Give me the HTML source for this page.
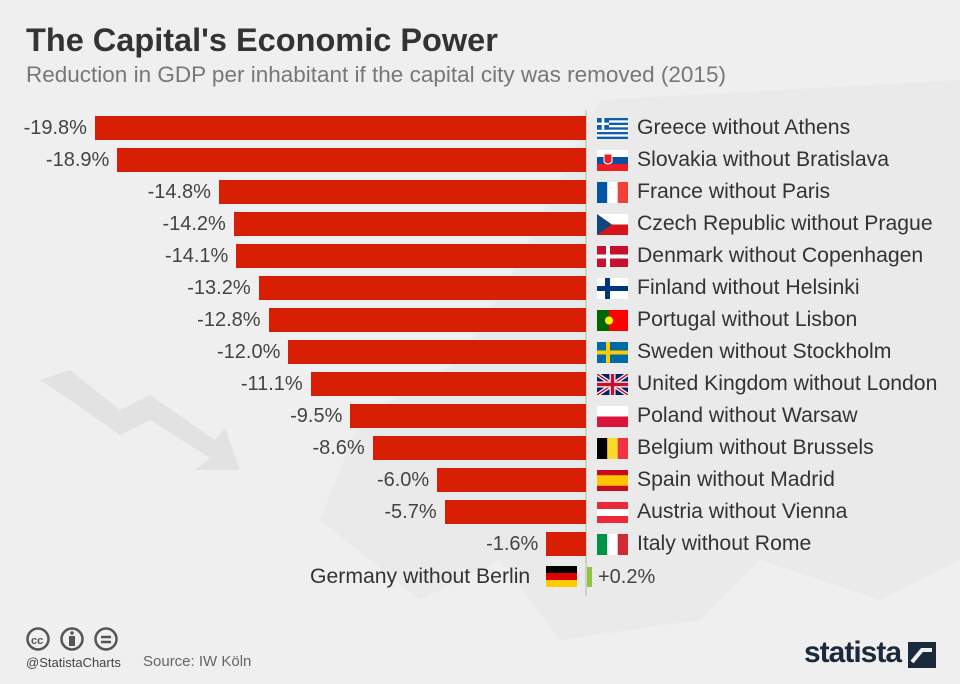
<!DOCTYPE html>
<html><head><meta charset="utf-8"><style>
body{margin:0;width:960px;height:684px;background:#efefef;font-family:"Liberation Sans",sans-serif;position:relative;overflow:hidden}
.a{position:absolute;white-space:nowrap}
.bar{position:absolute;height:24px;background:#d81e05}
.val{position:absolute;font-size:20px;color:#444;text-align:right;width:120px}
.lab{position:absolute;left:637px;font-size:21.2px;color:#333}
.flag{position:absolute;left:597px;width:31px;height:21px}
</style></head><body>
<svg class="a" style="left:0;top:0" width="960" height="684">
<path d="M600 100 L960 80 L960 560 L880 600 L760 560 L700 620 L560 640 L500 560 L420 600 L320 520 L360 420 L460 360 L520 260 Z" fill="#eaeaea"/>
<path d="M40 380 L70 370 L120 410 L150 395 L215 440 L225 428 L240 470 L195 470 L210 458 L150 420 L120 435 L70 400 Z" fill="#e2e2e2"/>
<line x1="586" y1="110" x2="586" y2="596" stroke="#c8c8c8" stroke-width="1.5"/>
</svg>
<div class="a" style="left:26px;top:22px;font-size:32.5px;font-weight:bold;color:#333">The Capital's Economic Power</div>
<div class="a" style="left:26px;top:62px;font-size:22.5px;color:#777">Reduction in GDP per inhabitant if the capital city was removed (2015)</div>
<div id="rows"></div>
<div class="a" style="left:310px;top:565px;font-size:21.2px;color:#333">Germany without Berlin</div>
<svg class="a" style="left:546px;top:566px" width="31" height="21"><rect width="31" height="7" fill="#000"/><rect y="7" width="31" height="7" fill="#d00"/><rect y="14" width="31" height="7" fill="#fc0"/></svg>
<div class="a" style="left:587px;top:567px;width:5px;height:20px;background:#8dc63f"></div>
<div class="a" style="left:598px;top:566px;font-size:20px;color:#444">+0.2%</div>
<svg class="a" style="left:26px;top:626px" width="95" height="26" fill="none" stroke="#555" stroke-width="2.5"><circle cx="12" cy="13" r="10.5"/><circle cx="46" cy="13" r="10.5"/><circle cx="80" cy="13" r="10.5"/><text x="5" y="18" font-size="11" font-weight="bold" fill="#555" stroke="none" font-family="Liberation Sans">cc</text><circle cx="46" cy="7" r="1.8" fill="#555" stroke="none"/><rect x="43" y="10" width="6" height="10" fill="#555" stroke="none"/><line x1="75" y1="11" x2="85" y2="11"/><line x1="75" y1="16" x2="85" y2="16"/></svg>
<div class="a" style="left:26px;top:655px;font-size:13px;color:#444">@StatistaCharts</div>
<div class="a" style="left:143px;top:653px;font-size:15px;color:#666">Source: IW Köln</div>
<div class="a" style="left:804px;top:636px;font-size:30px;font-weight:bold;color:#1a2a3a;letter-spacing:-1px">statista</div>
<svg class="a" style="left:908px;top:642px" width="28" height="26"><rect width="28" height="26" fill="#1a2a3a"/><path d="M4 20 L14 8 L24 8" stroke="#efefef" stroke-width="4" fill="none"/></svg>
<script>
const d=[[19.8,"Greece without Athens","gr"],[18.9,"Slovakia without Bratislava","sk"],[14.8,"France without Paris","fr"],[14.2,"Czech Republic without Prague","cz"],[14.1,"Denmark without Copenhagen","dk"],[13.2,"Finland without Helsinki","fi"],[12.8,"Portugal without Lisbon","pt"],[12.0,"Sweden without Stockholm","se"],[11.1,"United Kingdom without London","uk"],[9.5,"Poland without Warsaw","pl"],[8.6,"Belgium without Brussels","be"],[6.0,"Spain without Madrid","es"],[5.7,"Austria without Vienna","at"],[1.6,"Italy without Rome","it"]];
const F={
gr:'<rect width="31" height="21" fill="#0d5eaf"/>'+[1,3,5,7].map(i=>`<rect y="${i*21/9}" width="31" height="${21/9}" fill="#fff"/>`).join('')+'<rect width="12" height="11.7" fill="#0d5eaf"/><rect x="4.7" width="2.6" height="11.7" fill="#fff"/><rect y="4.6" width="12" height="2.4" fill="#fff"/>',
sk:'<rect width="31" height="7" fill="#fff"/><rect y="7" width="31" height="7" fill="#0b4ea2"/><rect y="14" width="31" height="7" fill="#ee1c25"/><path d="M7 4 h8 v8 q-4 4 -8 0z" fill="#ee1c25" stroke="#fff"/>',
fr:'<rect width="10.3" height="21" fill="#0055a4"/><rect x="10.3" width="10.4" height="21" fill="#fff"/><rect x="20.7" width="10.3" height="21" fill="#ef4135"/>',
cz:'<rect width="31" height="10.5" fill="#fff"/><rect y="10.5" width="31" height="10.5" fill="#d7141a"/><path d="M0 0 L15 10.5 L0 21z" fill="#11457e"/>',
dk:'<rect width="31" height="21" fill="#c8102e"/><rect x="9" width="4" height="21" fill="#fff"/><rect y="8.5" width="31" height="4" fill="#fff"/>',
fi:'<rect width="31" height="21" fill="#fff"/><rect x="8" width="5" height="21" fill="#003580"/><rect y="8" width="31" height="5" fill="#003580"/>',
pt:'<rect width="31" height="21" fill="#f00"/><rect width="12" height="21" fill="#060"/><circle cx="12" cy="10.5" r="4" fill="#ff0"/>',
se:'<rect width="31" height="21" fill="#006aa7"/><rect x="9" width="4" height="21" fill="#fecc00"/><rect y="8.5" width="31" height="4" fill="#fecc00"/>',
uk:'<rect width="31" height="21" fill="#012169"/><path d="M0 0L31 21M31 0L0 21" stroke="#fff" stroke-width="4"/><path d="M0 0L31 21M31 0L0 21" stroke="#c8102e" stroke-width="1.5"/><path d="M15.5 0V21M0 10.5H31" stroke="#fff" stroke-width="6"/><path d="M15.5 0V21M0 10.5H31" stroke="#c8102e" stroke-width="3.5"/>',
pl:'<rect width="31" height="10.5" fill="#fff"/><rect y="10.5" width="31" height="10.5" fill="#dc143c"/>',
be:'<rect width="10.3" height="21" fill="#000"/><rect x="10.3" width="10.4" height="21" fill="#fdda24"/><rect x="20.7" width="10.3" height="21" fill="#ef3340"/>',
es:'<rect width="31" height="21" fill="#c60b1e"/><rect y="5.25" width="31" height="10.5" fill="#ffc400"/>',
at:'<rect width="31" height="21" fill="#ed2939"/><rect y="7" width="31" height="7" fill="#fff"/>',
it:'<rect width="10.3" height="21" fill="#009246"/><rect x="10.3" width="10.4" height="21" fill="#fff"/><rect x="20.7" width="10.3" height="21" fill="#ce2b37"/>'};
let h='';
d.forEach((r,i)=>{const c=128+32*i,w=r[0]*24.8,l=586-w;
h+=`<div class="bar" style="left:${l}px;top:${c-12}px;width:${w}px"></div>`;
h+=`<div class="val" style="left:${l-128}px;top:${c-11}px">-${r[0].toFixed(1)}%</div>`;
h+=`<svg class="flag" style="top:${c-10}px" viewBox="0 0 31 21">${F[r[2]]}</svg>`;
h+=`<div class="lab" style="top:${c-12}px">${r[1]}</div>`;});
document.getElementById('rows').innerHTML=h;
</script>
</body></html>
